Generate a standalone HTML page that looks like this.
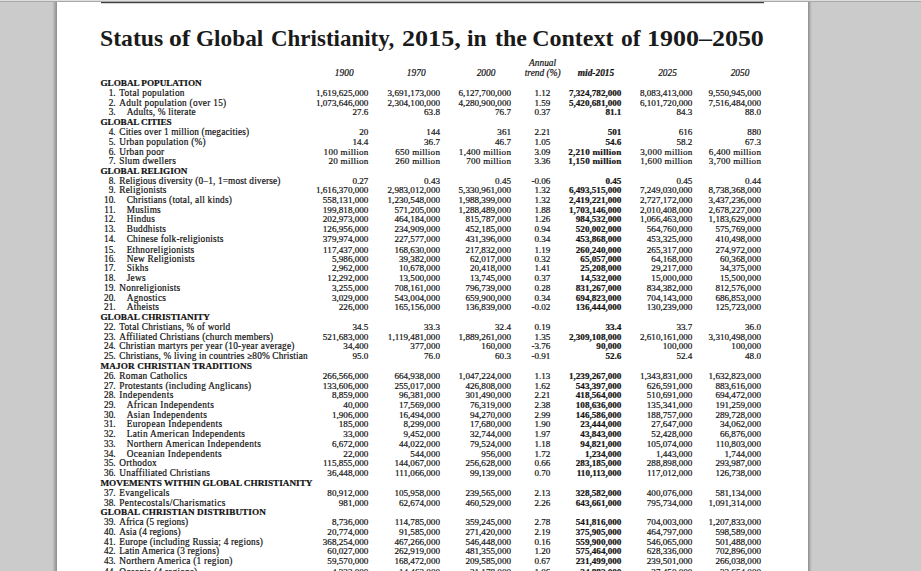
<!DOCTYPE html>
<html><head><meta charset="utf-8"><title>Status of Global Christianity, 2015</title>
<style>

html,body{margin:0;padding:0}
body{width:921px;height:571px;overflow:hidden;background:#cbcbcb;position:relative;font-family:"Liberation Serif",serif;color:#111;-webkit-text-stroke:0.2px #111}
.topbar{position:absolute;left:0;top:0;width:921px;height:1px;background:#dedede;border-bottom:1px solid #a9a9a9}
.page{position:absolute;left:57px;top:2px;width:751px;height:569px;background:#fff}
.shl{position:absolute;left:52px;top:2px;width:5px;height:569px;background:linear-gradient(to right,#cbcbcb,#bdbdbd 30%,#a5a5a5 60%,#8d8d8d)}
.shr{position:absolute;left:808px;top:2px;width:4px;height:569px;background:linear-gradient(to right,#8a8a8a,#a6a6a6 35%,#bcbcbc 70%,#cbcbcb)}
.rule{position:absolute;left:101px;top:2px;width:663px;height:1px;background:#404040;box-shadow:0 1px 0 #d4d4d4}
.title{position:absolute;left:0;top:23.3px;width:921px;height:30px;margin:0;font-size:24px;font-weight:bold;white-space:nowrap;line-height:30px;color:#1a1a1a}
.title span{position:absolute;top:0;transform-origin:0 0;-webkit-text-stroke:0}
.h{position:absolute;width:80px;text-align:center;white-space:nowrap;font-style:italic;font-size:9.4px;line-height:10px}
.b{font-weight:bold}
.row{position:absolute;left:0;width:921px;height:10px;font-size:9px;line-height:10px;white-space:nowrap}
.sec{padding-left:100.45px;font-weight:bold;font-size:9.2px;letter-spacing:0px}
.n{position:absolute;right:805.4px;font-size:9.3px}
.l{position:absolute;left:119.3px;font-size:9.3px;letter-spacing:0.25px}
.l.s{left:126.7px}
.v{position:absolute;font-size:9.15px}
.m{letter-spacing:0.25px}
</style></head><body>
<div class="topbar"></div><div class="shl"></div><div class="shr"></div>
<div class="page"></div><div class="rule"></div>
<h1 class="title"><span style="left:100.37px;transform:scaleX(0.988)">Status</span> <span style="left:169.24px;transform:scaleX(1.0649)">of</span> <span style="left:196.49px;transform:scaleX(0.9697)">Global</span> <span style="left:270.70px;transform:scaleX(0.9573)">Christianity,</span> <span style="left:401.61px;transform:scaleX(1.0885)">2015,</span> <span style="left:467.31px;transform:scaleX(0.9818)">in</span> <span style="left:494.60px;transform:scaleX(0.9984)">the</span> <span style="left:532.15px;transform:scaleX(1.0)">Context</span> <span style="left:620.92px;transform:scaleX(0.9766)">of</span> <span style="left:647.04px;transform:scaleX(1.0819)">1900–2050</span> </h1>
<div class="h" style="left:304.2px;top:68.20px">1900</div>
<div class="h" style="left:376.2px;top:68.20px">1970</div>
<div class="h" style="left:446.0px;top:68.20px">2000</div>
<div class="h" style="left:502.6px;top:58.40px">Annual</div>
<div class="h" style="left:502.7px;top:68.20px">trend (%)</div>
<div class="h b" style="left:556.0px;top:68.20px">mid-2015</div>
<div class="h" style="left:627.5px;top:68.20px">2025</div>
<div class="h" style="left:700.0px;top:68.20px">2050</div>
<div class="row sec" style="top:77.85px;letter-spacing:-0.027px">GLOBAL POPULATION</div>
<div class="row" style="top:87.61px"><span class="n">1.</span><span class="l" style="letter-spacing:0.277px">Total population</span><span class="v" style="right:552.60px">1,619,625,000</span><span class="v" style="right:481.00px">3,691,173,000</span><span class="v" style="right:410.00px">6,127,700,000</span><span class="v" style="right:370.60px">1.12</span><span class="v b" style="right:299.60px">7,324,782,000</span><span class="v" style="right:228.60px">8,083,413,000</span><span class="v" style="right:160.00px">9,550,945,000</span></div>
<div class="row" style="top:98.37px"><span class="n">2.</span><span class="l" style="letter-spacing:0.278px">Adult population (over 15)</span><span class="v" style="right:552.60px">1,073,646,000</span><span class="v" style="right:481.00px">2,304,100,000</span><span class="v" style="right:410.00px">4,280,900,000</span><span class="v" style="right:370.60px">1.59</span><span class="v b" style="right:299.60px">5,420,681,000</span><span class="v" style="right:228.60px">6,101,720,000</span><span class="v" style="right:160.00px">7,516,484,000</span></div>
<div class="row" style="top:107.13px"><span class="n">3.</span><span class="l s" style="letter-spacing:0.21px">Adults, % literate</span><span class="v" style="right:552.60px">27.6</span><span class="v" style="right:481.00px">63.8</span><span class="v" style="right:410.00px">76.7</span><span class="v" style="right:370.60px">0.37</span><span class="v b" style="right:299.60px">81.1</span><span class="v" style="right:228.60px">84.3</span><span class="v" style="right:160.00px">88.0</span></div>
<div class="row sec" style="top:116.89px;letter-spacing:-0.085px">GLOBAL CITIES</div>
<div class="row" style="top:126.65px"><span class="n">4.</span><span class="l" style="letter-spacing:0.144px">Cities over 1 million (megacities)</span><span class="v" style="right:552.60px">20</span><span class="v" style="right:481.00px">144</span><span class="v" style="right:410.00px">361</span><span class="v" style="right:370.60px">2.21</span><span class="v b" style="right:299.60px">501</span><span class="v" style="right:228.60px">616</span><span class="v" style="right:160.00px">880</span></div>
<div class="row" style="top:137.41px"><span class="n">5.</span><span class="l">Urban population (%)</span><span class="v" style="right:552.60px">14.4</span><span class="v" style="right:481.00px">36.7</span><span class="v" style="right:410.00px">46.7</span><span class="v" style="right:370.60px">1.05</span><span class="v b" style="right:299.60px">54.6</span><span class="v" style="right:228.60px">58.2</span><span class="v" style="right:160.00px">67.3</span></div>
<div class="row" style="top:147.17px"><span class="n">6.</span><span class="l">Urban poor</span><span class="v m" style="right:552.35px">100 million</span><span class="v m" style="right:480.75px">650 million</span><span class="v m" style="right:409.75px">1,400 million</span><span class="v" style="right:370.60px">3.09</span><span class="v b m" style="right:299.35px">2,210 million</span><span class="v m" style="right:228.35px">3,000 million</span><span class="v m" style="right:159.75px">6,400 million</span></div>
<div class="row" style="top:155.93px"><span class="n">7.</span><span class="l">Slum dwellers</span><span class="v m" style="right:552.35px">20 million</span><span class="v m" style="right:480.75px">260 million</span><span class="v m" style="right:409.75px">700 million</span><span class="v" style="right:370.60px">3.36</span><span class="v b m" style="right:299.35px">1,150 million</span><span class="v m" style="right:228.35px">1,600 million</span><span class="v m" style="right:159.75px">3,700 million</span></div>
<div class="row sec" style="top:165.69px;letter-spacing:-0.081px">GLOBAL RELIGION</div>
<div class="row" style="top:176.44px"><span class="n">8.</span><span class="l" style="letter-spacing:0.158px">Religious diversity (0–1, 1=most diverse)</span><span class="v" style="right:552.60px">0.27</span><span class="v" style="right:481.00px">0.43</span><span class="v" style="right:410.00px">0.45</span><span class="v" style="right:370.60px">-0.06</span><span class="v b" style="right:299.60px">0.45</span><span class="v" style="right:228.60px">0.45</span><span class="v" style="right:160.00px">0.44</span></div>
<div class="row" style="top:185.20px"><span class="n">9.</span><span class="l">Religionists</span><span class="v" style="right:552.60px">1,616,370,000</span><span class="v" style="right:481.00px">2,983,012,000</span><span class="v" style="right:410.00px">5,330,961,000</span><span class="v" style="right:370.60px">1.32</span><span class="v b" style="right:299.60px">6,493,515,000</span><span class="v" style="right:228.60px">7,249,030,000</span><span class="v" style="right:160.00px">8,738,368,000</span></div>
<div class="row" style="top:194.96px"><span class="n">10.</span><span class="l s" style="letter-spacing:0.214px">Christians (total, all kinds)</span><span class="v" style="right:552.60px">558,131,000</span><span class="v" style="right:481.00px">1,230,548,000</span><span class="v" style="right:410.00px">1,988,399,000</span><span class="v" style="right:370.60px">1.32</span><span class="v b" style="right:299.60px">2,419,221,000</span><span class="v" style="right:228.60px">2,727,172,000</span><span class="v" style="right:160.00px">3,437,236,000</span></div>
<div class="row" style="top:204.72px"><span class="n">11.</span><span class="l s">Muslims</span><span class="v" style="right:552.60px">199,818,000</span><span class="v" style="right:481.00px">571,205,000</span><span class="v" style="right:410.00px">1,288,489,000</span><span class="v" style="right:370.60px">1.88</span><span class="v b" style="right:299.60px">1,703,146,000</span><span class="v" style="right:228.60px">2,010,408,000</span><span class="v" style="right:160.00px">2,678,227,000</span></div>
<div class="row" style="top:214.48px"><span class="n">12.</span><span class="l s">Hindus</span><span class="v" style="right:552.60px">202,973,000</span><span class="v" style="right:481.00px">464,184,000</span><span class="v" style="right:410.00px">815,787,000</span><span class="v" style="right:370.60px">1.26</span><span class="v b" style="right:299.60px">984,532,000</span><span class="v" style="right:228.60px">1,066,463,000</span><span class="v" style="right:160.00px">1,183,629,000</span></div>
<div class="row" style="top:224.24px"><span class="n">13.</span><span class="l s">Buddhists</span><span class="v" style="right:552.60px">126,956,000</span><span class="v" style="right:481.00px">234,909,000</span><span class="v" style="right:410.00px">452,185,000</span><span class="v" style="right:370.60px">0.94</span><span class="v b" style="right:299.60px">520,002,000</span><span class="v" style="right:228.60px">564,760,000</span><span class="v" style="right:160.00px">575,769,000</span></div>
<div class="row" style="top:234.00px"><span class="n">14.</span><span class="l s" style="letter-spacing:0.208px">Chinese folk-religionists</span><span class="v" style="right:552.60px">379,974,000</span><span class="v" style="right:481.00px">227,577,000</span><span class="v" style="right:410.00px">431,396,000</span><span class="v" style="right:370.60px">0.34</span><span class="v b" style="right:299.60px">453,868,000</span><span class="v" style="right:228.60px">453,325,000</span><span class="v" style="right:160.00px">410,498,000</span></div>
<div class="row" style="top:244.76px"><span class="n">15.</span><span class="l s">Ethnoreligionists</span><span class="v" style="right:552.60px">117,437,000</span><span class="v" style="right:481.00px">168,630,000</span><span class="v" style="right:410.00px">217,832,000</span><span class="v" style="right:370.60px">1.19</span><span class="v b" style="right:299.60px">260,240,000</span><span class="v" style="right:228.60px">265,317,000</span><span class="v" style="right:160.00px">274,972,000</span></div>
<div class="row" style="top:253.52px"><span class="n">16.</span><span class="l s">New Religionists</span><span class="v" style="right:552.60px">5,986,000</span><span class="v" style="right:481.00px">39,382,000</span><span class="v" style="right:410.00px">62,017,000</span><span class="v" style="right:370.60px">0.32</span><span class="v b" style="right:299.60px">65,057,000</span><span class="v" style="right:228.60px">64,168,000</span><span class="v" style="right:160.00px">60,368,000</span></div>
<div class="row" style="top:263.28px"><span class="n">17.</span><span class="l s">Sikhs</span><span class="v" style="right:552.60px">2,962,000</span><span class="v" style="right:481.00px">10,678,000</span><span class="v" style="right:410.00px">20,418,000</span><span class="v" style="right:370.60px">1.41</span><span class="v b" style="right:299.60px">25,208,000</span><span class="v" style="right:228.60px">29,217,000</span><span class="v" style="right:160.00px">34,375,000</span></div>
<div class="row" style="top:273.04px"><span class="n">18.</span><span class="l s">Jews</span><span class="v" style="right:552.60px">12,292,000</span><span class="v" style="right:481.00px">13,500,000</span><span class="v" style="right:410.00px">13,745,000</span><span class="v" style="right:370.60px">0.37</span><span class="v b" style="right:299.60px">14,532,000</span><span class="v" style="right:228.60px">15,000,000</span><span class="v" style="right:160.00px">15,500,000</span></div>
<div class="row" style="top:282.80px"><span class="n">19.</span><span class="l">Nonreligionists</span><span class="v" style="right:552.60px">3,255,000</span><span class="v" style="right:481.00px">708,161,000</span><span class="v" style="right:410.00px">796,739,000</span><span class="v" style="right:370.60px">0.28</span><span class="v b" style="right:299.60px">831,267,000</span><span class="v" style="right:228.60px">834,382,000</span><span class="v" style="right:160.00px">812,576,000</span></div>
<div class="row" style="top:292.56px"><span class="n">20.</span><span class="l s">Agnostics</span><span class="v" style="right:552.60px">3,029,000</span><span class="v" style="right:481.00px">543,004,000</span><span class="v" style="right:410.00px">659,900,000</span><span class="v" style="right:370.60px">0.34</span><span class="v b" style="right:299.60px">694,823,000</span><span class="v" style="right:228.60px">704,143,000</span><span class="v" style="right:160.00px">686,853,000</span></div>
<div class="row" style="top:302.32px"><span class="n">21.</span><span class="l s">Atheists</span><span class="v" style="right:552.60px">226,000</span><span class="v" style="right:481.00px">165,156,000</span><span class="v" style="right:410.00px">136,839,000</span><span class="v" style="right:370.60px">-0.02</span><span class="v b" style="right:299.60px">136,444,000</span><span class="v" style="right:228.60px">130,239,000</span><span class="v" style="right:160.00px">125,723,000</span></div>
<div class="row sec" style="top:312.08px;letter-spacing:0.003px">GLOBAL CHRISTIANITY</div>
<div class="row" style="top:321.84px"><span class="n">22.</span><span class="l" style="letter-spacing:0.198px">Total Christians, % of world</span><span class="v" style="right:552.60px">34.5</span><span class="v" style="right:481.00px">33.3</span><span class="v" style="right:410.00px">32.4</span><span class="v" style="right:370.60px">0.19</span><span class="v b" style="right:299.60px">33.4</span><span class="v" style="right:228.60px">33.7</span><span class="v" style="right:160.00px">36.0</span></div>
<div class="row" style="top:331.60px"><span class="n">23.</span><span class="l" style="letter-spacing:0.207px">Affiliated Christians (church members)</span><span class="v" style="right:552.60px">521,683,000</span><span class="v" style="right:481.00px">1,119,481,000</span><span class="v" style="right:410.00px">1,889,261,000</span><span class="v" style="right:370.60px">1.35</span><span class="v b" style="right:299.60px">2,309,108,000</span><span class="v" style="right:228.60px">2,610,161,000</span><span class="v" style="right:160.00px">3,310,498,000</span></div>
<div class="row" style="top:341.36px"><span class="n">24.</span><span class="l" style="letter-spacing:0.224px">Christian martyrs per year (10-year average)</span><span class="v" style="right:552.60px">34,400</span><span class="v" style="right:481.00px">377,000</span><span class="v" style="right:410.00px">160,000</span><span class="v" style="right:370.60px">-3.76</span><span class="v b" style="right:299.60px">90,000</span><span class="v" style="right:228.60px">100,000</span><span class="v" style="right:160.00px">100,000</span></div>
<div class="row" style="top:351.12px"><span class="n">25.</span><span class="l" style="letter-spacing:0.159px">Christians, % living in countries ≥80% Christian</span><span class="v" style="right:552.60px">95.0</span><span class="v" style="right:481.00px">76.0</span><span class="v" style="right:410.00px">60.3</span><span class="v" style="right:370.60px">-0.91</span><span class="v b" style="right:299.60px">52.6</span><span class="v" style="right:228.60px">52.4</span><span class="v" style="right:160.00px">48.0</span></div>
<div class="row sec" style="top:360.88px;letter-spacing:0.12px">MAJOR CHRISTIAN TRADITIONS</div>
<div class="row" style="top:370.63px"><span class="n">26.</span><span class="l">Roman Catholics</span><span class="v" style="right:552.60px">266,566,000</span><span class="v" style="right:481.00px">664,938,000</span><span class="v" style="right:410.00px">1,047,224,000</span><span class="v" style="right:370.60px">1.13</span><span class="v b" style="right:299.60px">1,239,267,000</span><span class="v" style="right:228.60px">1,343,831,000</span><span class="v" style="right:160.00px">1,632,823,000</span></div>
<div class="row" style="top:381.39px"><span class="n">27.</span><span class="l" style="letter-spacing:0.247px">Protestants (including Anglicans)</span><span class="v" style="right:552.60px">133,606,000</span><span class="v" style="right:481.00px">255,017,000</span><span class="v" style="right:410.00px">426,808,000</span><span class="v" style="right:370.60px">1.62</span><span class="v b" style="right:299.60px">543,397,000</span><span class="v" style="right:228.60px">626,591,000</span><span class="v" style="right:160.00px">883,616,000</span></div>
<div class="row" style="top:390.15px"><span class="n">28.</span><span class="l" style="letter-spacing:0.4px">Independents</span><span class="v" style="right:552.60px">8,859,000</span><span class="v" style="right:481.00px">96,381,000</span><span class="v" style="right:410.00px">301,490,000</span><span class="v" style="right:370.60px">2.21</span><span class="v b" style="right:299.60px">418,564,000</span><span class="v" style="right:228.60px">510,691,000</span><span class="v" style="right:160.00px">694,472,000</span></div>
<div class="row" style="top:399.91px"><span class="n">29.</span><span class="l s" style="letter-spacing:0.361px">African Independents</span><span class="v" style="right:552.60px">40,000</span><span class="v" style="right:481.00px">17,569,000</span><span class="v" style="right:410.00px">76,319,000</span><span class="v" style="right:370.60px">2.38</span><span class="v b" style="right:299.60px">108,636,000</span><span class="v" style="right:228.60px">135,341,000</span><span class="v" style="right:160.00px">191,259,000</span></div>
<div class="row" style="top:409.67px"><span class="n">30.</span><span class="l s" style="letter-spacing:0.385px">Asian Independents</span><span class="v" style="right:552.60px">1,906,000</span><span class="v" style="right:481.00px">16,494,000</span><span class="v" style="right:410.00px">94,270,000</span><span class="v" style="right:370.60px">2.99</span><span class="v b" style="right:299.60px">146,586,000</span><span class="v" style="right:228.60px">188,757,000</span><span class="v" style="right:160.00px">289,728,000</span></div>
<div class="row" style="top:419.43px"><span class="n">31.</span><span class="l s" style="letter-spacing:0.4px">European Independents</span><span class="v" style="right:552.60px">185,000</span><span class="v" style="right:481.00px">8,299,000</span><span class="v" style="right:410.00px">17,680,000</span><span class="v" style="right:370.60px">1.90</span><span class="v b" style="right:299.60px">23,444,000</span><span class="v" style="right:228.60px">27,647,000</span><span class="v" style="right:160.00px">34,062,000</span></div>
<div class="row" style="top:429.19px"><span class="n">32.</span><span class="l s" style="letter-spacing:0.319px">Latin American Independents</span><span class="v" style="right:552.60px">33,000</span><span class="v" style="right:481.00px">9,452,000</span><span class="v" style="right:410.00px">32,744,000</span><span class="v" style="right:370.60px">1.97</span><span class="v b" style="right:299.60px">43,843,000</span><span class="v" style="right:228.60px">52,428,000</span><span class="v" style="right:160.00px">66,876,000</span></div>
<div class="row" style="top:438.95px"><span class="n">33.</span><span class="l s" style="letter-spacing:0.35px">Northern American Independents</span><span class="v" style="right:552.60px">6,672,000</span><span class="v" style="right:481.00px">44,022,000</span><span class="v" style="right:410.00px">79,524,000</span><span class="v" style="right:370.60px">1.18</span><span class="v b" style="right:299.60px">94,821,000</span><span class="v" style="right:228.60px">105,074,000</span><span class="v" style="right:160.00px">110,803,000</span></div>
<div class="row" style="top:448.71px"><span class="n">34.</span><span class="l s" style="letter-spacing:0.4px">Oceanian Independents</span><span class="v" style="right:552.60px">22,000</span><span class="v" style="right:481.00px">544,000</span><span class="v" style="right:410.00px">956,000</span><span class="v" style="right:370.60px">1.72</span><span class="v b" style="right:299.60px">1,234,000</span><span class="v" style="right:228.60px">1,443,000</span><span class="v" style="right:160.00px">1,744,000</span></div>
<div class="row" style="top:458.47px"><span class="n">35.</span><span class="l">Orthodox</span><span class="v" style="right:552.60px">115,855,000</span><span class="v" style="right:481.00px">144,067,000</span><span class="v" style="right:410.00px">256,628,000</span><span class="v" style="right:370.60px">0.66</span><span class="v b" style="right:299.60px">283,185,000</span><span class="v" style="right:228.60px">288,898,000</span><span class="v" style="right:160.00px">293,987,000</span></div>
<div class="row" style="top:468.23px"><span class="n">36.</span><span class="l" style="letter-spacing:0.268px">Unaffiliated Christians</span><span class="v" style="right:552.60px">36,448,000</span><span class="v" style="right:481.00px">111,066,000</span><span class="v" style="right:410.00px">99,139,000</span><span class="v" style="right:370.60px">0.70</span><span class="v b" style="right:299.60px">110,113,000</span><span class="v" style="right:228.60px">117,012,000</span><span class="v" style="right:160.00px">126,738,000</span></div>
<div class="row sec" style="top:477.99px;letter-spacing:0.015px">MOVEMENTS WITHIN GLOBAL CHRISTIANITY</div>
<div class="row" style="top:487.75px"><span class="n">37.</span><span class="l" style="letter-spacing:0.241px">Evangelicals</span><span class="v" style="right:552.60px">80,912,000</span><span class="v" style="right:481.00px">105,958,000</span><span class="v" style="right:410.00px">239,565,000</span><span class="v" style="right:370.60px">2.13</span><span class="v b" style="right:299.60px">328,582,000</span><span class="v" style="right:228.60px">400,076,000</span><span class="v" style="right:160.00px">581,134,000</span></div>
<div class="row" style="top:497.51px"><span class="n">38.</span><span class="l" style="letter-spacing:0.375px">Pentecostals/Charismatics</span><span class="v" style="right:552.60px">981,000</span><span class="v" style="right:481.00px">62,674,000</span><span class="v" style="right:410.00px">460,529,000</span><span class="v" style="right:370.60px">2.26</span><span class="v b" style="right:299.60px">643,661,000</span><span class="v" style="right:228.60px">795,734,000</span><span class="v" style="right:160.00px">1,091,314,000</span></div>
<div class="row sec" style="top:507.27px;letter-spacing:0.07px">GLOBAL CHRISTIAN DISTRIBUTION</div>
<div class="row" style="top:517.03px"><span class="n">39.</span><span class="l" style="letter-spacing:0.126px">Africa (5 regions)</span><span class="v" style="right:552.60px">8,736,000</span><span class="v" style="right:481.00px">114,785,000</span><span class="v" style="right:410.00px">359,245,000</span><span class="v" style="right:370.60px">2.78</span><span class="v b" style="right:299.60px">541,816,000</span><span class="v" style="right:228.60px">704,003,000</span><span class="v" style="right:160.00px">1,207,833,000</span></div>
<div class="row" style="top:526.79px"><span class="n">40.</span><span class="l" style="letter-spacing:0.09px">Asia (4 regions)</span><span class="v" style="right:552.60px">20,774,000</span><span class="v" style="right:481.00px">91,585,000</span><span class="v" style="right:410.00px">271,420,000</span><span class="v" style="right:370.60px">2.19</span><span class="v b" style="right:299.60px">375,905,000</span><span class="v" style="right:228.60px">464,797,000</span><span class="v" style="right:160.00px">598,589,000</span></div>
<div class="row" style="top:536.55px"><span class="n">41.</span><span class="l" style="letter-spacing:0.19px">Europe (including Russia; 4 regions)</span><span class="v" style="right:552.60px">368,254,000</span><span class="v" style="right:481.00px">467,266,000</span><span class="v" style="right:410.00px">546,448,000</span><span class="v" style="right:370.60px">0.16</span><span class="v b" style="right:299.60px">559,900,000</span><span class="v" style="right:228.60px">546,065,000</span><span class="v" style="right:160.00px">501,488,000</span></div>
<div class="row" style="top:546.31px"><span class="n">42.</span><span class="l" style="letter-spacing:0.142px">Latin America (3 regions)</span><span class="v" style="right:552.60px">60,027,000</span><span class="v" style="right:481.00px">262,919,000</span><span class="v" style="right:410.00px">481,355,000</span><span class="v" style="right:370.60px">1.20</span><span class="v b" style="right:299.60px">575,464,000</span><span class="v" style="right:228.60px">628,336,000</span><span class="v" style="right:160.00px">702,896,000</span></div>
<div class="row" style="top:556.07px"><span class="n">43.</span><span class="l" style="letter-spacing:0.25px">Northern America (1 region)</span><span class="v" style="right:552.60px">59,570,000</span><span class="v" style="right:481.00px">168,472,000</span><span class="v" style="right:410.00px">209,585,000</span><span class="v" style="right:370.60px">0.67</span><span class="v b" style="right:299.60px">231,499,000</span><span class="v" style="right:228.60px">239,501,000</span><span class="v" style="right:160.00px">266,038,000</span></div>
<div class="row" style="top:567.02px"><span class="n">44.</span><span class="l">Oceania (4 regions)</span><span class="v" style="right:552.60px">4,322,000</span><span class="v" style="right:481.00px">14,462,000</span><span class="v" style="right:410.00px">21,178,000</span><span class="v" style="right:370.60px">1.06</span><span class="v b" style="right:299.60px">24,882,000</span><span class="v" style="right:228.60px">27,450,000</span><span class="v" style="right:160.00px">32,654,000</span></div>
</body></html>
